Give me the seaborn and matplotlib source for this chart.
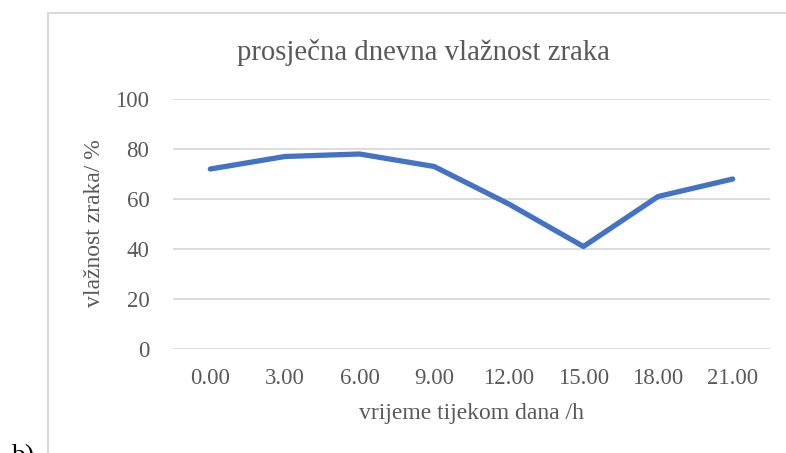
import matplotlib
matplotlib.use("Agg")
import matplotlib.pyplot as plt
import seaborn as sns
import pandas as pd
from matplotlib.patches import Rectangle

# podaci procitani s grafa
sati = ['0.00', '3.00', '6.00', '9.00', '12.00', '15.00', '18.00', '21.00']
vlaznost = [72, 77, 78, 73, 58, 41, 61, 68]
y_ticks = [0, 20, 40, 60, 80, 100]

df = pd.DataFrame({'sat': sati, 'vlaznost': vlaznost})

sns.set_style('white')
plt.rcParams['font.family'] = ['Liberation Serif', 'DejaVu Serif']

tekst = '#595959'
fig = plt.figure(figsize=(7.86, 4.53), dpi=100)

# okvir grafikona
fig.patches.append(Rectangle((48 / 786, -0.1), 1.0, 1 - 13 / 453 + 0.1,
                             transform=fig.transFigure, fill=False,
                             edgecolor='#d9d9d9', linewidth=1.5))

ax = fig.add_axes([173 / 786, 1 - 349 / 453, (770 - 173) / 786, 250 / 453])
sns.lineplot(data=df, x='sat', y='vlaznost', ax=ax, sort=False,
             color='#4472C4', linewidth=3.8)

ax.set_ylim(0, 100)
ax.set_xlim(-0.5, len(sati) - 0.5)
ax.set_yticks(y_ticks)
ax.yaxis.grid(True, color='#d9d9d9', linewidth=1.3)
ax.set_axisbelow(True)
for s in ax.spines.values():
    s.set_visible(False)
ax.tick_params(axis='both', length=0, labelsize=16.5, labelcolor=tekst)
ax.tick_params(axis='y', pad=17)
ax.tick_params(axis='x', pad=14)
ax.set_xlabel('')
ax.set_ylabel('')

fig.text(423 / 786, 1 - 53 / 453, 'prosječna dnevna vlažnost zraka',
         ha='center', va='center', fontsize=20.7, color=tekst)
fig.text(95 / 786, 1 - 223 / 453, 'vlažnost zraka/ %', rotation=90,
         ha='center', va='center', fontsize=17, color=tekst)
fig.text(471 / 786, 1 - 413 / 453, 'vrijeme tijekom dana /h',
         ha='center', va='center', fontsize=17, color=tekst)
fig.text(12 / 786, 1 - 463 / 453, 'b)', ha='left', va='baseline',
         fontsize=20, color='black')

fig.savefig('out.png', dpi=100)
